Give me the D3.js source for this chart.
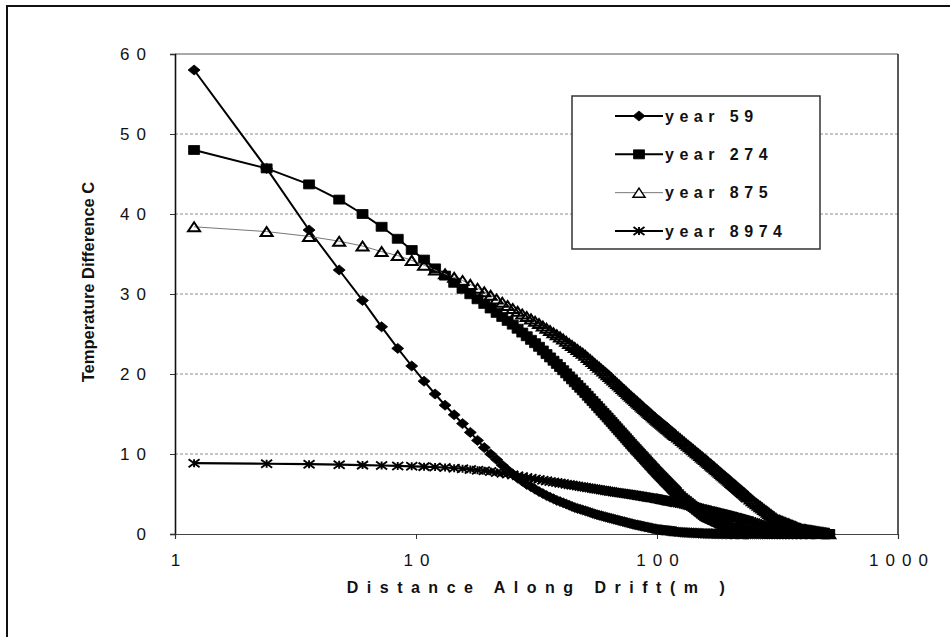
<!DOCTYPE html>
<html>
<head>
<meta charset="utf-8">
<script src="https://cdn.jsdelivr.net/npm/d3@7"></script>
<style>
  html, body { margin: 0; padding: 0; background: #fff; }
  svg { display: block; font-family: "Liberation Sans", Arial, sans-serif; }
</style>
</head>
<body>
<svg id="chart" width="950" height="637"></svg>
<script>
// Distance along the drift (m) of each temperature sample
const distance = [
  1.2, 2.4, 3.6, 4.8, 6, 7.2, 8.4, 9.6, 10.8, 12,
  13.2, 14.4, 15.6, 16.8, 18, 19.2, 20.4, 21.6, 22.8, 24,
  25.2, 26.4, 27.6, 28.8, 30, 31.2, 32.4, 33.6, 34.8, 36,
  37.2, 38.4, 39.6, 40.8, 42, 43.2, 44.4, 45.6, 46.8, 48,
  49.2, 50.4, 51.6, 52.8, 54, 55.2, 56.4, 57.6, 58.8, 60,
  61.2, 62.4, 63.6, 64.8, 66, 67.2, 68.4, 69.6, 70.8, 72,
  73.2, 74.4, 75.6, 76.8, 78, 79.2, 80.4, 81.6, 82.8, 84,
  85.2, 86.4, 87.6, 88.8, 90, 91.2, 92.4, 93.6, 94.8, 96,
  97.2, 98.4, 99.6, 100.8, 102, 103.2, 104.4, 105.6, 106.8, 108,
  109.2, 110.4, 111.6, 112.8, 114, 115.2, 116.4, 117.6, 118.8, 120,
  122.4, 124.8, 127.2, 129.6, 132, 134.4, 136.8, 139.2, 141.6, 144,
  146.4, 148.8, 151.2, 153.6, 156, 158.4, 160.8, 163.2, 165.6, 168,
  170.4, 172.8, 175.2, 177.6, 180, 182.4, 184.8, 187.2, 189.6, 192,
  194.4, 196.8, 199.2, 201.6, 204, 206.4, 208.8, 211.2, 213.6, 216,
  218.4, 220.8, 223.2, 225.6, 228, 230.4, 232.8, 235.2, 237.6, 240,
  244.8, 249.6, 254.4, 259.2, 264, 268.8, 273.6, 278.4, 283.2, 288,
  292.8, 297.6, 302.4, 307.2, 312, 316.8, 321.6, 326.4, 331.2, 336,
  340.8, 345.6, 350.4, 355.2, 360, 364.8, 369.6, 374.4, 379.2, 384,
  388.8, 393.6, 398.4, 403.2, 408, 412.8, 417.6, 422.4, 427.2, 432,
  436.8, 441.6, 446.4, 451.2, 456, 460.8, 465.6, 470.4, 475.2, 480,
  484.8, 489.6, 494.4, 499.2, 504, 508.8, 513.6, 518.4
];

// Temperature difference (C) at each distance, one array per time
const year59 = [
  58.0, 45.7, 38.0, 33.0, 29.2, 25.9, 23.2, 21.0, 19.1, 17.5,
  16.1, 14.9, 13.8, 12.7, 11.7, 10.8, 10.0, 9.3, 8.6, 8.0,
  7.5, 7.0, 6.6, 6.2, 5.9, 5.6, 5.3, 5.05, 4.8, 4.6,
  4.4, 4.2, 4.05, 3.9, 3.75, 3.6, 3.45, 3.3, 3.2, 3.1,
  3.0, 2.9, 2.8, 2.7, 2.6, 2.5, 2.42, 2.34, 2.27, 2.2,
  2.13, 2.06, 1.99, 1.93, 1.87, 1.81, 1.75, 1.69, 1.63, 1.57,
  1.52, 1.46, 1.41, 1.35, 1.30, 1.25, 1.20, 1.16, 1.12, 1.08,
  1.04, 1.00, 0.96, 0.92, 0.88, 0.84, 0.81, 0.77, 0.73, 0.70,
  0.66, 0.63, 0.59, 0.57, 0.55, 0.53, 0.51, 0.49, 0.48, 0.46,
  0.44, 0.43, 0.41, 0.39, 0.38, 0.36, 0.34, 0.33, 0.31, 0.30,
  0.26, 0.23, 0.21, 0.20, 0.19, 0.17, 0.16, 0.15, 0.14, 0.13,
  0.12, 0.10, 0.09, 0.08, 0.07, 0.06, 0.06, 0.05, 0.05, 0.05,
  0.04, 0.04, 0.04, 0.03, 0.03, 0.03, 0.03, 0.02, 0.02, 0.02,
  0.02, 0.02, 0.01, 0.01, 0.01, 0.01, 0.01, 0.01, 0.01, 0.01,
  0, 0, 0, 0, 0, 0, 0, 0, 0, 0,
  0, 0, 0, 0, 0, 0, 0, 0, 0, 0,
  0, 0, 0, 0, 0, 0, 0, 0, 0, 0,
  0, 0, 0, 0, 0, 0, 0, 0, 0, 0,
  0, 0, 0, 0, 0, 0, 0, 0, 0, 0,
  0, 0, 0, 0, 0, 0, 0, 0, 0, 0,
  0, 0, 0, 0, 0, 0, 0, 0
];
const year274 = [
  48.0, 45.7, 43.7, 41.8, 40.0, 38.4, 36.9, 35.5, 34.3, 33.2,
  32.3, 31.4, 30.65, 29.97, 29.34, 28.76, 28.19, 27.64, 27.13, 26.64,
  26.17, 25.66, 25.18, 24.72, 24.27, 23.85, 23.4, 22.94, 22.49, 22.07,
  21.66, 21.26, 20.87, 20.47, 20.08, 19.7, 19.33, 18.97, 18.62, 18.28,
  17.95, 17.62, 17.28, 16.95, 16.63, 16.32, 16.01, 15.71, 15.41, 15.12,
  14.84, 14.56, 14.28, 14.01, 13.73, 13.47, 13.21, 12.95, 12.70, 12.45,
  12.21, 11.97, 11.73, 11.50, 11.27, 11.04, 10.83, 10.61, 10.41, 10.20,
  9.99, 9.80, 9.60, 9.40, 9.21, 9.02, 8.83, 8.65, 8.47, 8.28,
  8.11, 7.93, 7.76, 7.59, 7.43, 7.28, 7.12, 6.97, 6.81, 6.66,
  6.52, 6.37, 6.22, 6.08, 5.94, 5.79, 5.65, 5.52, 5.38, 5.24,
  4.98, 4.72, 4.49, 4.30, 4.11, 3.92, 3.73, 3.55, 3.37, 3.20,
  3.03, 2.86, 2.69, 2.53, 2.37, 2.21, 2.11, 2.02, 1.93, 1.85,
  1.76, 1.68, 1.59, 1.51, 1.43, 1.35, 1.27, 1.19, 1.11, 1.03,
  0.96, 0.88, 0.81, 0.77, 0.74, 0.71, 0.68, 0.65, 0.62, 0.59,
  0.56, 0.54, 0.51, 0.48, 0.45, 0.43, 0.40, 0.37, 0.35, 0.32,
  0.27, 0.22, 0.19, 0.17, 0.16, 0.14, 0.13, 0.11, 0.10, 0.08,
  0.07, 0.05, 0.04, 0.03, 0.01, 0, 0, 0, 0, 0,
  0, 0, 0, 0, 0, 0, 0, 0, 0, 0,
  0, 0, 0, 0, 0, 0, 0, 0, 0, 0,
  0, 0, 0, 0, 0, 0, 0, 0, 0, 0,
  0, 0, 0, 0, 0, 0, 0, 0
];
const year875 = [
  38.4, 37.8, 37.2, 36.6, 36.0, 35.3, 34.8, 34.2, 33.6, 33.0,
  32.52, 32.08, 31.68, 31.2, 30.72, 30.27, 29.83, 29.38, 28.96, 28.56,
  28.18, 27.83, 27.5, 27.19, 26.89, 26.6, 26.3, 26.0, 25.71, 25.43,
  25.16, 24.9, 24.64, 24.36, 24.09, 23.82, 23.56, 23.3, 23.06, 22.81,
  22.58, 22.34, 22.07, 21.81, 21.56, 21.31, 21.07, 20.83, 20.6, 20.37,
  20.14, 19.92, 19.70, 19.48, 19.25, 19.03, 18.82, 18.61, 18.40, 18.19,
  17.99, 17.80, 17.60, 17.41, 17.22, 17.04, 16.86, 16.68, 16.51, 16.34,
  16.18, 16.01, 15.85, 15.69, 15.53, 15.38, 15.23, 15.07, 14.93, 14.78,
  14.63, 14.49, 14.35, 14.21, 14.09, 13.96, 13.83, 13.71, 13.59, 13.47,
  13.35, 13.23, 13.11, 12.99, 12.88, 12.76, 12.65, 12.54, 12.43, 12.32,
  12.11, 11.90, 11.69, 11.49, 11.29, 11.09, 10.90, 10.71, 10.52, 10.34,
  10.16, 9.99, 9.81, 9.64, 9.47, 9.31, 9.14, 8.97, 8.81, 8.64,
  8.48, 8.33, 8.17, 8.02, 7.86, 7.71, 7.57, 7.42, 7.28, 7.13,
  6.99, 6.86, 6.72, 6.58, 6.45, 6.32, 6.19, 6.06, 5.93, 5.81,
  5.68, 5.56, 5.43, 5.31, 5.19, 5.08, 4.96, 4.84, 4.73, 4.61,
  4.39, 4.17, 3.97, 3.79, 3.60, 3.42, 3.25, 3.07, 2.90, 2.73,
  2.57, 2.41, 2.25, 2.09, 1.94, 1.79, 1.71, 1.64, 1.56, 1.48,
  1.41, 1.34, 1.27, 1.20, 1.12, 1.06, 0.99, 0.92, 0.85, 0.79,
  0.72, 0.66, 0.60, 0.57, 0.55, 0.52, 0.50, 0.47, 0.45, 0.42,
  0.40, 0.38, 0.35, 0.33, 0.31, 0.28, 0.26, 0.24, 0.22, 0.19,
  0.17, 0.15, 0.13, 0.11, 0.09, 0.07, 0.05, 0.03
];
const year8974 = [
  8.85, 8.78, 8.73, 8.66, 8.61, 8.56, 8.51, 8.46, 8.42, 8.37,
  8.31, 8.23, 8.16, 8.07, 7.98, 7.9, 7.81, 7.7, 7.59, 7.49,
  7.39, 7.28, 7.17, 7.07, 6.97, 6.88, 6.8, 6.72, 6.64, 6.57,
  6.5, 6.43, 6.36, 6.3, 6.23, 6.17, 6.11, 6.06, 6.0, 5.94,
  5.89, 5.84, 5.79, 5.74, 5.69, 5.64, 5.59, 5.55, 5.5, 5.46,
  5.42, 5.37, 5.33, 5.30, 5.26, 5.23, 5.19, 5.16, 5.12, 5.09,
  5.06, 5.03, 5.00, 4.97, 4.94, 4.91, 4.87, 4.84, 4.81, 4.78,
  4.75, 4.72, 4.69, 4.66, 4.63, 4.60, 4.57, 4.54, 4.52, 4.49,
  4.46, 4.44, 4.41, 4.38, 4.35, 4.32, 4.29, 4.26, 4.23, 4.20,
  4.17, 4.14, 4.11, 4.09, 4.06, 4.03, 4.00, 3.98, 3.95, 3.92,
  3.87, 3.82, 3.77, 3.71, 3.65, 3.59, 3.53, 3.47, 3.42, 3.36,
  3.31, 3.26, 3.20, 3.15, 3.10, 3.05, 3.00, 2.95, 2.91, 2.86,
  2.81, 2.77, 2.72, 2.68, 2.63, 2.59, 2.55, 2.51, 2.47, 2.43,
  2.38, 2.35, 2.31, 2.26, 2.22, 2.17, 2.13, 2.09, 2.05, 2.01,
  1.97, 1.93, 1.89, 1.85, 1.81, 1.77, 1.73, 1.69, 1.66, 1.62,
  1.55, 1.47, 1.40, 1.32, 1.24, 1.17, 1.10, 1.03, 0.95, 0.89,
  0.82, 0.75, 0.69, 0.62, 0.56, 0.50, 0.47, 0.45, 0.43, 0.41,
  0.39, 0.37, 0.34, 0.32, 0.30, 0.28, 0.26, 0.24, 0.22, 0.20,
  0.19, 0.17, 0.15, 0.14, 0.14, 0.13, 0.12, 0.12, 0.11, 0.10,
  0.10, 0.09, 0.09, 0.08, 0.07, 0.07, 0.06, 0.06, 0.05, 0.04,
  0.04, 0.03, 0.03, 0.02, 0.02, 0.02, 0.01, 0.01
];

const seriesNames = ["year 59", "year 274", "year 875", "year 8974"];
const yTicks = [0, 10, 20, 30, 40, 50, 60];
const xTicks = [1, 10, 100, 1000];
const xTitle = "Distance Along Drift(m )";
const yTitle = "Temperature Difference C";

// Marker outlines, centred on the data point
function markerPath(kind, w, h) {
  const p = d3.path(), a = w / 2, b = h / 2;
  if (kind === "diamond") {
    p.moveTo(0, -b); p.lineTo(a, 0); p.lineTo(0, b); p.lineTo(-a, 0); p.closePath();
  } else if (kind === "square") {
    p.rect(-a, -b, w, h);
  } else if (kind === "triangle") {
    p.moveTo(0, -b); p.lineTo(a, b); p.lineTo(-a, b); p.closePath();
  } else { // star: an X crossed by a vertical bar
    p.moveTo(-a, -b); p.lineTo(a, b);
    p.moveTo(-a, b); p.lineTo(a, -b);
    p.moveTo(0, -b); p.lineTo(0, b);
  }
  return p.toString();
}

const styles = [
  { values: year59,   kind: "diamond",  w: 12, h: 10, fill: "#000", mw: 0.8, line: "#000", lw: 2 },
  { values: year274,  kind: "square",   w: 11, h: 9,  fill: "#000", mw: 0.8, line: "#000", lw: 2 },
  { values: year875,  kind: "triangle", w: 12, h: 9,  fill: "none", mw: 2.0, line: "#777", lw: 1 },
  { values: year8974, kind: "star",     w: 11, h: 8,  fill: "none", mw: 1.9, line: "#000", lw: 2.2 }
];

const svg = d3.select("#chart");
const W = 950, H = 637;
const plot = { left: 175, right: 898, top: 54, bottom: 534 };

const x = d3.scaleLog().domain([1, 1000]).range([plot.left, plot.right]);
const y = d3.scaleLinear().domain([0, 60]).range([plot.bottom, plot.top]);

// Chart frame
svg.append("rect").attr("x", 7).attr("y", 6).attr("width", W + 20).attr("height", H + 20)
  .attr("fill", "#fff").attr("stroke", "#111").attr("stroke-width", 2);

// Horizontal gridlines
svg.append("g").selectAll("line").data(yTicks.filter(d => d > 0 && d < 60)).join("line")
  .attr("x1", plot.left).attr("x2", plot.right)
  .attr("y1", d => y(d)).attr("y2", d => y(d))
  .attr("stroke", "#8c8c8c").attr("stroke-width", 1).attr("stroke-dasharray", "3,2");

// Plot area border (top and right)
svg.append("line").attr("x1", plot.left).attr("x2", plot.right).attr("y1", plot.top).attr("y2", plot.top)
  .attr("stroke", "#555").attr("stroke-width", 1.2);
svg.append("line").attr("x1", plot.right).attr("x2", plot.right).attr("y1", plot.top).attr("y2", plot.bottom)
  .attr("stroke", "#222").attr("stroke-width", 1.5);

// Axes
const yAxis = svg.append("g").attr("transform", `translate(${plot.left},0)`)
  .call(d3.axisLeft(y).tickValues(yTicks).tickSize(5).tickPadding(17).tickFormat(d3.format("d")));
const xAxis = svg.append("g").attr("transform", `translate(0,${plot.bottom})`)
  .call(d3.axisBottom(x).tickValues(xTicks).tickSize(5).tickPadding(15).tickFormat(d3.format("d")));

[yAxis, xAxis].forEach(g => {
  g.select(".domain").attr("stroke", "#111").attr("stroke-width", 1.6);
  g.selectAll(".tick line").attr("stroke", "#333");
  g.selectAll(".tick text").attr("fill", "#111").attr("font-size", 17)
    .attr("font-family", "'Liberation Sans', Arial, sans-serif")
    .style("letter-spacing", "7px");
});
xAxis.select(".domain").attr("stroke", "#444").attr("stroke-width", 1.2);
xAxis.selectAll(".tick text").attr("dx", 3.5);

// Axis titles
svg.append("text").attr("x", 540).attr("y", 593).attr("text-anchor", "middle")
  .attr("font-size", 16).attr("font-weight", "bold").style("letter-spacing", "8.5px")
  .attr("fill", "#111").text(xTitle);
svg.append("text").attr("transform", "translate(94,282) rotate(-90)").attr("text-anchor", "middle")
  .attr("font-size", 16.5).attr("font-weight", "bold").attr("fill", "#111").text(yTitle);

// Series: connecting line first, markers on top
const line = d3.line().x((d, i) => x(distance[i])).y(d => y(d));
styles.forEach(s => {
  const g = svg.append("g");
  g.append("path").datum(s.values).attr("d", line)
    .attr("fill", "none").attr("stroke", s.line).attr("stroke-width", s.lw);
  const shape = markerPath(s.kind, s.w, s.h);
  g.selectAll("path.m").data(s.values).join("path").attr("class", "m")
    .attr("transform", (d, i) => `translate(${x(distance[i])},${y(d)})`)
    .attr("d", shape).attr("fill", s.fill).attr("stroke", "#000").attr("stroke-width", s.mw);
});

// Legend
const legend = svg.append("g");
legend.append("rect").attr("x", 572).attr("y", 96).attr("width", 248).attr("height", 153)
  .attr("fill", "#fff").attr("stroke", "#333").attr("stroke-width", 1.5);
const rowY = d3.scalePoint().domain(seriesNames).range([116, 231]);
seriesNames.forEach((name, i) => {
  const s = styles[i];
  const cy = rowY(name);
  legend.append("line").attr("x1", 615).attr("x2", 663).attr("y1", cy).attr("y2", cy)
    .attr("stroke", s.line).attr("stroke-width", s.lw);
  legend.append("path").attr("transform", `translate(639,${cy})`)
    .attr("d", markerPath(s.kind, s.w, s.h))
    .attr("fill", s.kind === "triangle" ? "#fff" : s.fill)
    .attr("stroke", "#000").attr("stroke-width", s.kind === "triangle" ? 1.5 : s.mw);
  legend.append("text").attr("x", 665).attr("y", cy).attr("dy", "0.36em")
    .attr("font-size", 16).attr("font-weight", "bold").style("letter-spacing", "5.5px")
    .attr("fill", "#111").text(name);
});
</script>
</body>
</html>
